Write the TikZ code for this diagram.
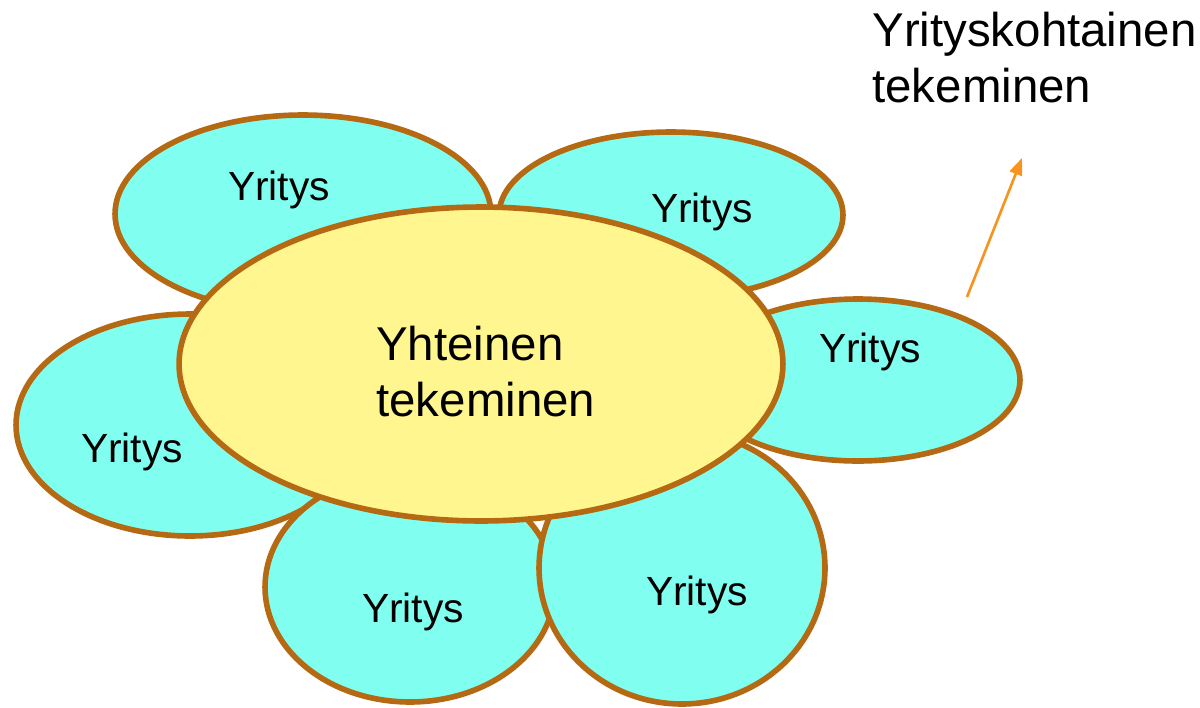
\documentclass[tikz,border=0pt]{standalone}
\usepackage{fontspec}
\setmainfont{Liberation Sans}
\usetikzlibrary{shapes.geometric,arrows.meta}
\definecolor{petalfill}{RGB}{128,255,240}
\definecolor{petalline}{RGB}{180,105,18}
\definecolor{middlefill}{RGB}{255,246,143}
\definecolor{arrowcol}{RGB}{247,147,30}
\tikzset{
  petal/.style={ellipse, draw=petalline, fill=petalfill, line width=3.2pt, inner sep=0pt},
  lbl/.style={font=\fontsize{23.2}{28}\selectfont, anchor=base, inner sep=0pt},
  bigtext/.style={font=\fontsize{27}{31.7}\selectfont, align=left, anchor=north west, inner sep=0pt}
}
\begin{document}
\begin{tikzpicture}[x=0.02cm,y=-0.02cm]
\useasboundingbox (0,0) rectangle (1200,707);
% petals
\node at (303,214) [petal, minimum width=7.52cm, minimum height=3.96cm] (TL) {};
\node at (671,215) [petal, minimum width=6.88cm, minimum height=3.32cm] (TR) {};
\node at (190,425) [petal, minimum width=6.96cm, minimum height=4.44cm] (L) {};
\node at (858,380) [petal, minimum width=6.48cm, minimum height=3.24cm] (R) {};
\node at (410,587) [petal, minimum width=5.80cm, minimum height=4.60cm] (BL) {};
\node at (682,568) [petal, minimum width=5.72cm, minimum height=5.44cm] (BR) {};
% middle
\node at (481,364) [petal, fill=middlefill, minimum width=12.08cm, minimum height=6.28cm] (M) {};
\node[lbl] at (279,200) (tTL) {Yritys};
\node[lbl] at (702,222) (tTR) {Yritys};
\node[lbl] at (132,462) (tL) {Yritys};
\node[lbl] at (870,362) (tR) {Yritys};
\node[lbl] at (413,622) (tBL) {Yritys};
\node[lbl] at (697,605) (tBR) {Yritys};
\node[bigtext] at (376,326) (tM) {Yhteinen\\tekeminen};
% own work
\coordinate (from) at (967,297);
\coordinate (to) at (1022,158);
\draw[-{Triangle[length=0.34cm,width=0.26cm]}, arrowcol, line width=1.5pt] (from) -- (to);
\node[bigtext] at (872,12) (own) {Yrityskohtainen\\tekeminen};
\end{tikzpicture}
\end{document}
